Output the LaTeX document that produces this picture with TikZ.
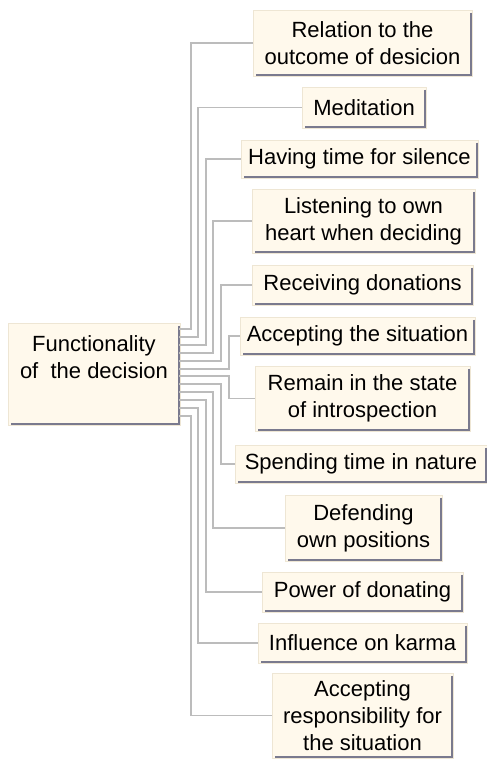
\documentclass[tikz,border=0pt]{standalone}
\usepackage{fontspec}
\setmainfont{Liberation Sans}
\definecolor{boxfill}{RGB}{255,249,236}
\definecolor{boxedge}{RGB}{238,230,212}
\definecolor{shadowc}{RGB}{122,122,142}
\definecolor{connc}{RGB}{188,188,188}
\begin{document}
\begin{tikzpicture}[x=1pt,y=-1pt,
  box/.style={fill=boxfill,draw=boxedge,line width=0.8pt,inner sep=0pt,align=center,
    font=\fontsize{22}{27}\selectfont},
  conn/.style={draw=connc,line width=1.5pt},
  shad/.style={draw=shadowc,line width=2.5pt}]
\useasboundingbox (0,0) rectangle (487,760);
% root
\node[box,minimum width=172pt,minimum height=102pt] (root) at (94,374) {};
\node[font=\fontsize{22}{27}\selectfont,align=center,inner sep=0pt] (rootlabel) at (94,357) {Functionality\\of\ \ the decision};
% children
\node[box,minimum width=219pt,minimum height=66pt] (c1) at (362.5,43) {Relation to the\\outcome of desicion};
\node[box,minimum width=124pt,minimum height=41pt] (c2) at (364,107.5) {Meditation};
\node[box,minimum width=237pt,minimum height=38pt] (c3) at (359.5,159) {Having time for silence};
\node[box,minimum width=223pt,minimum height=64pt] (c4) at (363.5,221) {Listening to own\\heart when deciding};
\node[box,minimum width=221pt,minimum height=40pt] (c5) at (362.5,285) {Receiving donations};
\node[box,minimum width=235pt,minimum height=38pt] (c6) at (357.5,336) {Accepting the situation};
\node[box,minimum width=215pt,minimum height=65pt] (c7) at (362.5,398.5) {Remain in the state\\of introspection};
\node[box,minimum width=252pt,minimum height=38pt] (c8) at (361,464) {Spending time in nature};
\node[box,minimum width=157pt,minimum height=66pt] (c9) at (363.5,528) {Defending\\own positions};
\node[box,minimum width=201pt,minimum height=40pt] (c10) at (362.5,592) {Power of donating};
\node[box,minimum width=209pt,minimum height=40pt] (c11) at (362.5,643) {Influence on karma};
\node[box,minimum width=181pt,minimum height=85pt] (c12) at (362.5,715.5) {Accepting\\responsibility for\\the situation};
% shadows
\foreach \n in {root,c1,c2,c3,c4,c5,c6,c7,c8,c9,c10,c11,c12}{
  \draw[shad] ([xshift=-1.25pt,yshift=-3pt]\n.north east) -- ([xshift=-1.25pt,yshift=1.25pt]\n.south east) -- ([xshift=3pt,yshift=1.25pt]\n.south west);
}
% exit points and vertical tracks
\foreach \i/\ye/\xv in {1/329/191,2/337/198,3/345/206,4/353/213,5/361/221,6/369/229,
                        7/376/229,8/384/221,9/392/213,10/400/206,11/408/198,12/416/191}{
  \coordinate (e\i) at (179,\ye);
  \coordinate (v\i) at (\xv,0);
}
\foreach \i in {1,...,12}{
  \draw[conn] (e\i) -| (v\i |- c\i.west) -- (c\i.west);
}
\end{tikzpicture}
\end{document}
